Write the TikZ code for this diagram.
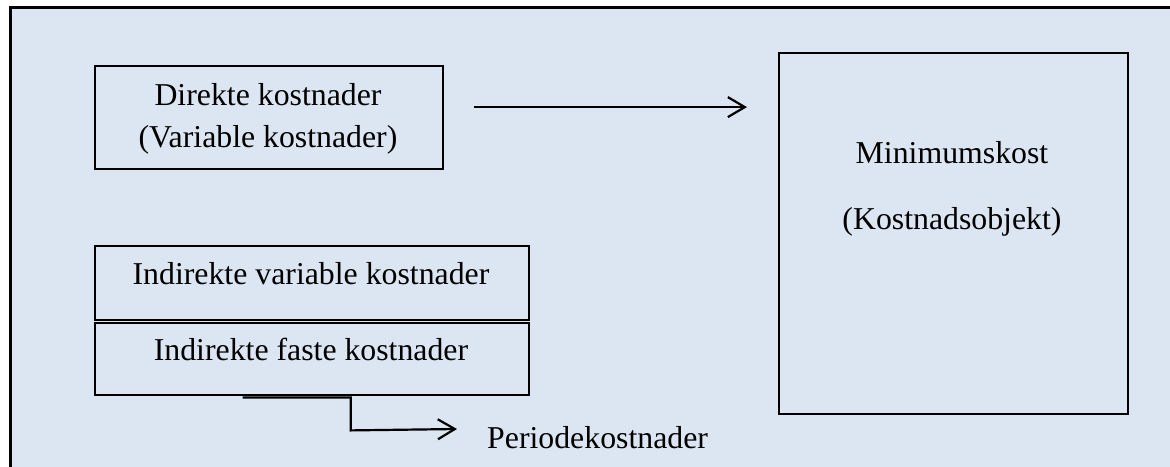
\documentclass[tikz,border=0pt]{standalone}
\usepackage{fontspec}
\setmainfont{Liberation Serif}
\usetikzlibrary{arrows.meta,calc}
\definecolor{bgblue}{HTML}{DCE6F2}
\begin{document}
\begin{tikzpicture}[x=1pt,y=-1pt,
  box/.style={draw=black,line width=2.2pt,inner sep=0pt,anchor=north west},
  txt/.style={font=\fontsize{31.8}{38}\selectfont,inner sep=0pt,anchor=base},
  arr/.style={line width=2.2pt,-{Straight Barb[length=17pt,width=20pt]}}]
\useasboundingbox (0,0) rectangle (1170,466);
\clip (0,0) rectangle (1170,466);
\draw[fill=bgblue,line width=3pt] (10,7) rectangle (1200,500);
% boxes
\node[box,minimum width=348pt,minimum height=103pt] (b1) at (94,65) {};
\node[box,minimum width=434pt,minimum height=74pt] (b2) at (94,245) {};
\node[box,minimum width=434pt,minimum height=72pt] (b3) at (94,322) {};
\node[box,minimum width=349pt,minimum height=361pt] (mk) at (778,52) {};
% texts
\node[txt] (t1a) at (268,105) {Direkte kostnader};
\node[txt] (t1b) at (268,147) {(Variable kostnader)};
\node[txt] (t2) at (311,284) {Indirekte variable kostnader};
\node[txt] (t3) at (311,360) {Indirekte faste kostnader};
\node[txt] (tm1) at (952,163) {Minimumskost};
\node[txt] (tm2) at (952,229) {(Kostnadsobjekt)};
\node[txt,anchor=base west] (pk) at (487,448) {Periodekostnader};
% connectors
\coordinate (a1) at ($(b1.east)+(30,-10.5)$);
\draw[arr,shorten >=31pt] (a1) -- (a1 -| mk.west);
\coordinate (c1) at ($(b3.south west)!0.341!(b3.south east)+(0,1.2)$);
\coordinate (c2) at ($(pk.base west)+(-30,-19)$);
\draw[arr] (c1) -- ++(108,0) -- ++(0,33) -- (c2);
\end{tikzpicture}
\end{document}
